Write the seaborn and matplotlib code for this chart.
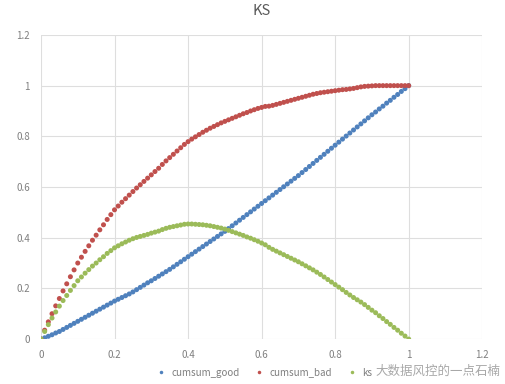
import matplotlib
matplotlib.use("Agg")
import matplotlib.pyplot as plt
import seaborn as sns
import pandas as pd

x_vals = [i / 100 for i in range(101)]

cumsum_good = [
    0.000, 0.005, 0.011, 0.017, 0.024, 0.030, 0.038, 0.046, 0.054, 0.062,
    0.070, 0.078, 0.086, 0.094, 0.102, 0.110, 0.118, 0.126, 0.134, 0.142,
    0.150, 0.157, 0.164, 0.171, 0.178, 0.186, 0.195, 0.204, 0.213, 0.222,
    0.230, 0.239, 0.248, 0.257, 0.266, 0.275, 0.285, 0.295, 0.305, 0.315,
    0.325, 0.335, 0.345, 0.355, 0.365, 0.375, 0.385, 0.395, 0.405, 0.415,
    0.425, 0.436, 0.447, 0.458, 0.469, 0.480, 0.491, 0.502, 0.513, 0.524,
    0.535, 0.546, 0.557, 0.568, 0.579, 0.590, 0.601, 0.612, 0.623, 0.634,
    0.645, 0.657, 0.669, 0.681, 0.693, 0.705, 0.717, 0.729, 0.741, 0.753,
    0.765, 0.777, 0.789, 0.801, 0.813, 0.825, 0.837, 0.849, 0.861, 0.873,
    0.885, 0.896, 0.908, 0.919, 0.931, 0.942, 0.954, 0.965, 0.977, 0.988,
    1.000,
]

cumsum_bad = [
    0.000, 0.035, 0.068, 0.100, 0.131, 0.160, 0.190, 0.218, 0.246, 0.273,
    0.300, 0.323, 0.346, 0.368, 0.390, 0.410, 0.431, 0.451, 0.472, 0.491,
    0.510, 0.525, 0.540, 0.554, 0.568, 0.582, 0.596, 0.609, 0.622, 0.635,
    0.648, 0.661, 0.674, 0.689, 0.703, 0.716, 0.729, 0.742, 0.755, 0.768,
    0.779, 0.789, 0.798, 0.807, 0.816, 0.824, 0.832, 0.839, 0.846, 0.853,
    0.859, 0.865, 0.871, 0.877, 0.883, 0.889, 0.894, 0.900, 0.905, 0.910,
    0.914, 0.918, 0.919, 0.922, 0.926, 0.930, 0.934, 0.938, 0.942, 0.946,
    0.950, 0.954, 0.958, 0.962, 0.966, 0.969, 0.972, 0.974, 0.976, 0.978,
    0.980, 0.982, 0.984, 0.985, 0.987, 0.989, 0.992, 0.995, 0.997, 0.998,
    0.999, 1.000, 1.000, 1.000, 1.000, 1.000, 1.000, 1.000, 1.000, 1.000,
    1.000,
]

ks = [
    0.000, 0.030, 0.057, 0.083, 0.107, 0.130, 0.152, 0.172, 0.192, 0.211,
    0.230, 0.245, 0.260, 0.274, 0.288, 0.300, 0.313, 0.325, 0.338, 0.349,
    0.360, 0.368, 0.376, 0.383, 0.390, 0.396, 0.401, 0.405, 0.409, 0.413,
    0.418, 0.422, 0.426, 0.432, 0.437, 0.441, 0.444, 0.447, 0.450, 0.453,
    0.454, 0.454, 0.453, 0.452, 0.451, 0.449, 0.447, 0.444, 0.441, 0.438,
    0.434, 0.429, 0.424, 0.419, 0.414, 0.409, 0.403, 0.398, 0.392, 0.386,
    0.379, 0.372, 0.362, 0.354, 0.347, 0.340, 0.333, 0.326, 0.319, 0.312,
    0.305, 0.297, 0.289, 0.281, 0.273, 0.264, 0.255, 0.245, 0.235, 0.225,
    0.215, 0.205, 0.195, 0.184, 0.174, 0.164, 0.155, 0.146, 0.136, 0.125,
    0.114, 0.104, 0.092, 0.081, 0.069, 0.058, 0.046, 0.035, 0.023, 0.012,
    0.000,
]

series_names = ["cumsum_good", "cumsum_bad", "ks"]
x_ticks = [0, 0.2, 0.4, 0.6, 0.8, 1, 1.2]
x_tick_labels = ["0", "0.2", "0.4", "0.6", "0.8", "1", "1.2"]
y_ticks = [0, 0.2, 0.4, 0.6, 0.8, 1, 1.2]
y_tick_labels = ["0", "0.2", "0.4", "0.6", "0.8", "1", "1.2"]

df = pd.concat([
    pd.DataFrame({"x": x_vals, "y": cumsum_good, "series": series_names[0]}),
    pd.DataFrame({"x": x_vals, "y": cumsum_bad, "series": series_names[1]}),
    pd.DataFrame({"x": x_vals, "y": ks, "series": series_names[2]}),
], ignore_index=True)

sns.set_theme(style="white")
plt.rcParams["font.family"] = ["Noto Sans CJK SC", "DejaVu Sans"]

palette = {"cumsum_good": "#4F81BD", "cumsum_bad": "#C0504D", "ks": "#9BBB59"}

fig = plt.figure(figsize=(5.06, 3.84), dpi=100)
ax = fig.add_axes([0.081, 0.117, 0.872, 0.792])

sns.scatterplot(data=df, x="x", y="y", hue="series", palette=palette,
                s=13, linewidth=0, ax=ax, legend=True, zorder=3)

ax.set_xlim(0, 1.2)
ax.set_ylim(0, 1.2)
ax.set_xticks(x_ticks)
ax.set_xticklabels(x_tick_labels)
ax.set_yticks(y_ticks)
ax.set_yticklabels(y_tick_labels)
ax.grid(True, color="#DEDEDE", linewidth=0.8)
ax.set_axisbelow(True)
for sp in ax.spines.values():
    sp.set_visible(False)
ax.tick_params(axis="both", length=0, labelsize=7, colors="#7F7F7F", pad=8)
ax.set_xlabel("")
ax.set_ylabel("")

ax.set_title("KS", fontsize=10.5, color="#595959", pad=14)

handles, labels = ax.get_legend_handles_labels()
ax.legend(handles, labels, loc="upper center", bbox_to_anchor=(0.5, -0.065),
          ncol=3, frameon=False, fontsize=7, labelcolor="#7F7F7F",
          handletextpad=0.1, columnspacing=1.0, markerscale=0.7)

fig.text(0.99, 0.033, "大数据风控的一点石楠", ha="right", va="center",
         fontsize=9, color="#A8A8A8", style="italic")

fig.savefig("out.png", dpi=100, facecolor="white")
